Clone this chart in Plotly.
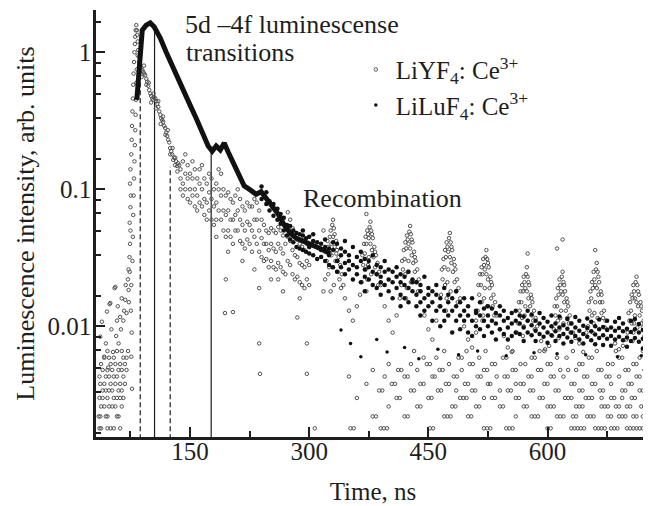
import plotly.graph_objects as go

FONT = "Liberation Serif"
INK = "#1e1e1e"

# ---------------- axes ----------------
x_range = [31.6, 729]
y_range_log = [-2.808, 0.309]
x_major = [150, 300, 450, 600]
x_minor = [75, 225, 375, 525, 675]
y_major = [0.01, 0.1, 1]
y_major_text = ["0.01", "0.1", "1"]
y_minor = [0.001667, 0.003333, 0.005, 0.006667, 0.008333,
           0.01667, 0.03333, 0.05, 0.06667, 0.08333,
           0.1667, 0.3333, 0.5, 0.6667, 0.8333, 1.667]

# ---------------- LiLuF4:Ce3+ (dense decay band, centre line) ----------------
lu_main_t = [83.0, 86.0, 89.8, 94.8, 99.9, 105.0, 112.5, 120.0, 127.5, 135.1, 142.6,
             150.2, 157.7, 165.3, 172.8, 177.9, 182.9, 188.0, 193.0, 198.0, 204.3, 210.6,
             218.1, 225.7, 233.2, 239.5, 245.8, 253.3, 260.9, 268.4, 276.0, 283.5, 292.3,
             301.1, 313.7, 326.3]
lu_main_i = [0.45, 0.88, 1.45, 1.58, 1.64, 1.53, 1.27, 1.00, 0.81, 0.65, 0.51,
             0.41, 0.33, 0.26, 0.207, 0.19, 0.207, 0.194, 0.218, 0.187, 0.156, 0.127,
             0.106, 0.099, 0.092, 0.096, 0.086, 0.074, 0.066, 0.055, 0.048, 0.044, 0.042,
             0.040, 0.037, 0.034]

# LiLuF4 scattered points (time ns -> intensities read at that time)
lu_cloud_near = {240: [0.105, 0.085], 246: [0.095, 0.078], 250: [0.082, 0.07], 255: [0.078, 0.064],
                 260: [0.072, 0.06], 264: [0.066, 0.056], 268: [0.062, 0.05], 272: [0.055, 0.046],
                 276: [0.054, 0.043], 280: [0.05, 0.041], 284: [0.048, 0.038], 288: [0.047, 0.037],
                 292: [0.046, 0.036, 0.05], 296: [0.044, 0.035], 300: [0.045, 0.034, 0.038],
                 305: [0.042, 0.033, 0.047], 310: [0.041, 0.031], 315: [0.04, 0.032, 0.036],
                 320: [0.038, 0.03, 0.043], 325: [0.037, 0.028, 0.033], 330: [0.036, 0.027, 0.041]}
lu_cloud_mid = {335: [0.04, 0.03, 0.025], 340: [0.037, 0.033, 0.027], 345: [0.035, 0.029, 0.024, 0.042],
                350: [0.033, 0.03, 0.026], 355: [0.038, 0.028, 0.022], 360: [0.032, 0.027, 0.024],
                365: [0.035, 0.03, 0.021], 370: [0.031, 0.026, 0.023, 0.018], 375: [0.03, 0.027, 0.022],
                380: [0.033, 0.025, 0.02], 385: [0.028, 0.024, 0.019], 390: [0.027, 0.023, 0.021, 0.017],
                395: [0.03, 0.025, 0.02], 400: [0.026, 0.022, 0.018], 405: [0.025, 0.021, 0.016],
                410: [0.027, 0.023, 0.019], 415: [0.024, 0.021, 0.017, 0.014], 420: [0.023, 0.02, 0.016],
                425: [0.025, 0.019, 0.015], 430: [0.022, 0.018, 0.021], 435: [0.021, 0.017, 0.014],
                440: [0.02, 0.018, 0.015, 0.012], 445: [0.023, 0.016, 0.013], 450: [0.019, 0.017, 0.014]}
lu_cloud_far = {455: [0.018, 0.015, 0.011], 460: [0.017, 0.013, 0.02], 465: [0.016, 0.014, 0.01],
                470: [0.019, 0.013, 0.011], 475: [0.015, 0.012, 0.017], 480: [0.016, 0.013, 0.009],
                485: [0.014, 0.011, 0.018], 490: [0.015, 0.012, 0.0095], 495: [0.013, 0.011, 0.016],
                500: [0.014, 0.012, 0.009], 505: [0.016, 0.011, 0.0085], 510: [0.013, 0.01, 0.0125],
                515: [0.012, 0.0095, 0.015], 520: [0.0135, 0.011, 0.0085], 525: [0.012, 0.01, 0.014],
                530: [0.011, 0.009, 0.0135], 535: [0.0125, 0.0105, 0.008], 540: [0.012, 0.0095, 0.014],
                545: [0.011, 0.0088, 0.013], 550: [0.0115, 0.0098, 0.008], 555: [0.0125, 0.0105, 0.0085],
                560: [0.011, 0.009, 0.013], 565: [0.0105, 0.0088, 0.012], 570: [0.0118, 0.0098, 0.0078],
                575: [0.011, 0.009, 0.013], 580: [0.0102, 0.0086, 0.0122], 585: [0.011, 0.0093, 0.0078],
                590: [0.0105, 0.0088, 0.0125], 595: [0.0098, 0.0084, 0.0115], 600: [0.0108, 0.009, 0.0076],
                605: [0.01, 0.0086, 0.012], 610: [0.0105, 0.0092, 0.0078], 615: [0.0098, 0.0085, 0.0118],
                620: [0.0102, 0.0088, 0.0075], 625: [0.0096, 0.0083, 0.0113], 630: [0.0105, 0.009, 0.0077],
                635: [0.0098, 0.0085, 0.0117], 640: [0.0093, 0.008, 0.011], 645: [0.0101, 0.0088, 0.0075],
                650: [0.0097, 0.0084, 0.0114], 655: [0.0092, 0.0079, 0.0108], 660: [0.01, 0.0087, 0.0074],
                665: [0.0095, 0.0082, 0.0112], 670: [0.0099, 0.0086, 0.0073], 675: [0.0094, 0.0081, 0.011],
                680: [0.0098, 0.0085, 0.0072], 685: [0.0093, 0.008, 0.0108], 690: [0.0097, 0.0084, 0.0115],
                695: [0.0092, 0.0079, 0.0105], 700: [0.0096, 0.0083, 0.0071], 705: [0.0091, 0.0078, 0.011],
                710: [0.0095, 0.0082, 0.0113], 715: [0.009, 0.0077, 0.0104], 720: [0.0094, 0.0081, 0.0069],
                725: [0.0089, 0.0076, 0.0107]}
lu_sparse = [(340, 0.0094), (352, 0.0075), (365, 0.006), (385, 0.008), (398, 0.0065), (420, 0.007),
             (438, 0.0058), (462, 0.0068), (488, 0.0062), (512, 0.0066), (548, 0.0061), (583, 0.0064),
             (612, 0.0063), (648, 0.0062), (688, 0.006), (718, 0.0061)]

# ---------------- LiYF4:Ce3+ ----------------
yf_pre = [(37, 0.0084), (39, 0.0108), (42, 0.006), (44, 0.0075), (45.4, 0.0128), (47, 0.005),
          (48.7, 0.0145), (49.6, 0.0148), (51, 0.0095), (53, 0.0065), (55, 0.019), (56, 0.0194),
          (57, 0.0085), (58, 0.011), (59, 0.014), (60, 0.0075), (62, 0.0117), (63, 0.0095),
          (64, 0.016), (66, 0.011), (67, 0.013), (68.4, 0.0156), (69, 0.02), (70, 0.0125),
          (71.8, 0.022), (72.6, 0.0184), (72.6, 0.026), (73, 0.015)]
yf_rise = [(73.8, 0.032), (74, 0.025), (74.5, 0.04), (75, 0.05), (74, 0.057), (75, 0.074),
           (75.5, 0.09), (74.5, 0.11), (75, 0.14), (76, 0.18), (76.5, 0.23), (77, 0.29),
           (77.5, 0.37), (78, 0.46), (78.5, 0.58), (79, 0.7), (79.5, 0.85), (80, 1.0),
           (80.5, 1.15), (81, 1.3), (81.5, 1.45), (77, 0.0035), (76, 0.006), (76.5, 0.009),
           (75.5, 0.013), (76, 0.02), (77.5, 0.03), (78, 0.045), (78.5, 0.065), (79, 0.09),
           (79.5, 0.12), (80, 0.16), (80.5, 0.21), (81, 0.27), (81.5, 0.35), (82, 0.45),
           (82.5, 0.6), (83, 0.75)]
yf_decay = [(82.3, 1.58), (83, 1.45), (83.5, 1.34), (84.2, 1.2), (84.8, 1.04), (85.5, 0.93),
            (86, 0.85), (87, 0.8), (88.6, 0.77), (90, 0.74), (91, 0.72), (92.3, 0.7), (93.6, 0.68),
            (95, 0.64), (96.1, 0.61), (97.4, 0.57), (98.6, 0.53), (100, 0.5), (101.1, 0.48),
            (102.4, 0.46), (103.6, 0.45), (105, 0.47), (106.2, 0.46), (107.5, 0.44), (108.7, 0.42),
            (110, 0.4), (111.2, 0.37), (112.5, 0.35), (113.7, 0.33), (115, 0.32), (116.2, 0.31),
            (117.5, 0.29), (118.7, 0.28), (120, 0.26), (121.3, 0.245), (122.5, 0.23), (123.8, 0.22),
            (125, 0.2), (126.3, 0.19), (127.5, 0.18), (128.8, 0.164), (130, 0.17), (131.3, 0.17),
            (132.5, 0.16), (133.8, 0.148), (135, 0.155), (136.4, 0.15),
            (84, 0.95), (86, 0.7), (89, 0.66), (92, 0.8), (95, 0.58), (98, 0.6), (101, 0.43),
            (104, 0.5), (107, 0.39), (110, 0.44), (113, 0.3), (116, 0.34), (119, 0.25),
            (122, 0.27), (125, 0.18), (128, 0.2), (131, 0.15), (134, 0.135)]
yf_ring = {138: [0.14, 0.12, 0.1], 141: [0.16, 0.11, 0.09], 144: [0.18, 0.13, 0.1],
           147: [0.15, 0.12, 0.085], 150: [0.13, 0.1, 0.08], 153: [0.16, 0.12, 0.09],
           156: [0.14, 0.1, 0.075], 159: [0.12, 0.09, 0.07], 162: [0.14, 0.11, 0.08],
           165: [0.15, 0.1, 0.075], 168: [0.12, 0.085, 0.065], 171: [0.11, 0.08, 0.06],
           174: [0.13, 0.095, 0.07], 177: [0.12, 0.085, 0.06], 180: [0.1, 0.075, 0.055],
           183: [0.11, 0.08, 0.06, 0.045], 186: [0.14, 0.1, 0.07], 189: [0.13, 0.09, 0.06],
           192: [0.1, 0.07, 0.05], 195: [0.09, 0.065, 0.045, 0.022], 198: [0.095, 0.07, 0.05, 0.035],
           201: [0.085, 0.06, 0.045], 204: [0.08, 0.06, 0.04, 0.0127], 207: [0.09, 0.065, 0.05],
           210: [0.1, 0.07, 0.05], 213: [0.085, 0.06, 0.042], 216: [0.075, 0.055, 0.04, 0.03],
           219: [0.07, 0.05, 0.037], 222: [0.08, 0.058, 0.043], 225: [0.075, 0.055, 0.04],
           228: [0.075, 0.05, 0.035], 231: [0.085, 0.06, 0.045, 0.026], 234: [0.08, 0.06, 0.04],
           237: [0.07, 0.05, 0.035, 0.019, 0.0075], 240: [0.06, 0.044, 0.032], 243: [0.055, 0.04, 0.03],
           246: [0.05, 0.04, 0.031], 249: [0.048, 0.036, 0.027], 252: [0.052, 0.04, 0.03, 0.022],
           255: [0.05, 0.037, 0.027], 258: [0.048, 0.035, 0.026], 261: [0.053, 0.04, 0.029, 0.022],
           264: [0.05, 0.037, 0.027], 267: [0.046, 0.034, 0.025, 0.018], 270: [0.055, 0.04, 0.024],
           273: [0.068, 0.045, 0.03], 276: [0.06, 0.042, 0.028], 279: [0.052, 0.036, 0.024],
           282: [0.048, 0.033, 0.022], 285: [0.043, 0.032, 0.023, 0.0116], 288: [0.04, 0.029, 0.021, 0.016],
           291: [0.038, 0.028, 0.02], 294: [0.036, 0.027, 0.019], 297: [0.04, 0.03, 0.022, 0.0075, 0.0045],
           300: [0.038, 0.028, 0.02], 194: [0.0125], 238: [0.0045], 307: [0.0018]}
yf_spikes = [
    [(322, 0.03), (324, 0.038), (326, 0.045), (327, 0.05), (329, 0.055), (330, 0.06), (331, 0.052),
     (332, 0.047), (334, 0.042), (335, 0.036), (337, 0.032), (339, 0.028), (325, 0.027), (328, 0.033),
     (333, 0.03), (336, 0.025), (320, 0.022), (341, 0.024), (318, 0.018), (343, 0.02),
     (321, 0.035), (323, 0.042), (326, 0.034), (328, 0.04), (330, 0.045), (332, 0.038), (334, 0.034),
     (336, 0.03), (338, 0.022), (340, 0.019), (324, 0.024), (329, 0.027), (331, 0.02), (327, 0.018)],
    [(368, 0.028), (370, 0.034), (372, 0.04), (374, 0.047), (376, 0.053), (377, 0.058), (378, 0.05),
     (380, 0.044), (382, 0.038), (384, 0.033), (386, 0.029), (388, 0.025), (371, 0.026), (375, 0.032),
     (379, 0.036), (383, 0.027), (366, 0.021), (390, 0.02), (364, 0.017), (373, 0.022),
     (367, 0.033), (369, 0.04), (371, 0.045), (373, 0.05), (375, 0.044), (377, 0.04), (379, 0.047),
     (381, 0.032), (383, 0.035), (385, 0.024), (387, 0.02), (374, 0.028), (378, 0.024), (372, 0.018)],
    [(418, 0.026), (420, 0.031), (422, 0.037), (424, 0.043), (426, 0.049), (427, 0.054), (428, 0.047),
     (430, 0.041), (432, 0.035), (434, 0.03), (436, 0.026), (438, 0.022), (421, 0.024), (425, 0.03),
     (429, 0.033), (433, 0.025), (416, 0.02), (440, 0.018), (414, 0.016), (423, 0.019),
     (417, 0.03), (419, 0.036), (421, 0.041), (423, 0.046), (425, 0.04), (427, 0.037), (429, 0.043),
     (431, 0.029), (433, 0.032), (435, 0.021), (437, 0.018), (424, 0.025), (428, 0.021), (422, 0.016)],
    [(468, 0.022), (470, 0.027), (472, 0.032), (474, 0.038), (476, 0.044), (477, 0.048), (478, 0.041),
     (480, 0.036), (482, 0.031), (484, 0.026), (486, 0.022), (488, 0.019), (471, 0.02), (475, 0.026),
     (479, 0.029), (483, 0.021), (466, 0.017), (490, 0.016), (464, 0.014), (473, 0.016),
     (467, 0.026), (469, 0.031), (471, 0.036), (473, 0.041), (475, 0.035), (477, 0.032), (479, 0.038),
     (481, 0.025), (483, 0.028), (485, 0.018), (487, 0.015), (474, 0.021), (478, 0.018), (472, 0.013)],
    [(514, 0.017), (516, 0.02), (518, 0.024), (520, 0.028), (522, 0.032), (523, 0.036), (524, 0.031),
     (526, 0.027), (528, 0.023), (530, 0.02), (532, 0.017), (534, 0.015), (517, 0.015), (521, 0.019),
     (525, 0.022), (529, 0.016), (512, 0.013), (536, 0.012), (510, 0.011), (519, 0.012),
     (513, 0.02), (515, 0.024), (517, 0.027), (519, 0.031), (521, 0.026), (523, 0.024), (525, 0.029),
     (527, 0.019), (529, 0.021), (531, 0.014), (533, 0.012), (520, 0.016), (524, 0.014), (518, 0.011)],
    [(565, 0.013), (567, 0.015), (569, 0.018), (571, 0.021), (573, 0.024), (574, 0.027), (575, 0.023),
     (577, 0.02), (579, 0.017), (581, 0.015), (583, 0.013), (585, 0.0115), (568, 0.0115), (572, 0.014),
     (576, 0.016), (580, 0.012), (563, 0.0105), (587, 0.01), (561, 0.009), (570, 0.01),
     (564, 0.015), (566, 0.018), (568, 0.02), (570, 0.023), (572, 0.019), (574, 0.018), (576, 0.021),
     (578, 0.014), (580, 0.016), (582, 0.011), (584, 0.0095), (571, 0.012), (575, 0.011), (569, 0.0085)],
    [(610, 0.012), (612, 0.014), (614, 0.017), (616, 0.02), (618, 0.023), (619, 0.025), (620, 0.021),
     (622, 0.018), (624, 0.016), (626, 0.014), (628, 0.012), (630, 0.0105), (613, 0.011), (617, 0.013),
     (621, 0.015), (625, 0.0115), (608, 0.0095), (632, 0.009), (606, 0.0085), (615, 0.0095),
     (609, 0.014), (611, 0.016), (613, 0.019), (615, 0.022), (617, 0.018), (619, 0.017), (621, 0.02),
     (623, 0.013), (625, 0.015), (627, 0.0105), (629, 0.009), (616, 0.0115), (620, 0.0105), (614, 0.0082)],
    [(653, 0.013), (655, 0.016), (657, 0.019), (659, 0.022), (661, 0.026), (662, 0.029), (663, 0.025),
     (665, 0.021), (667, 0.018), (669, 0.015), (671, 0.013), (673, 0.011), (656, 0.012), (660, 0.015),
     (664, 0.017), (668, 0.0125), (651, 0.01), (675, 0.0095), (649, 0.009), (658, 0.0105),
     (652, 0.015), (654, 0.018), (656, 0.021), (658, 0.025), (660, 0.02), (662, 0.019), (664, 0.023),
     (666, 0.015), (668, 0.017), (670, 0.0115), (672, 0.0098), (659, 0.0125), (663, 0.0115), (657, 0.009)],
    [(703, 0.011), (705, 0.013), (707, 0.016), (709, 0.018), (711, 0.021), (712, 0.023), (713, 0.02),
     (715, 0.017), (717, 0.015), (719, 0.013), (721, 0.011), (723, 0.0095), (706, 0.0105), (710, 0.012),
     (714, 0.014), (718, 0.0105), (701, 0.009), (725, 0.0085), (699, 0.008), (708, 0.009),
     (702, 0.0125), (704, 0.015), (706, 0.017), (708, 0.02), (710, 0.016), (712, 0.015), (714, 0.018),
     (716, 0.012), (718, 0.014), (720, 0.0098), (722, 0.0085), (709, 0.0105), (713, 0.0098), (707, 0.0078)],
]
yf_valleys = [(345, 0.016), (350, 0.013), (355, 0.011), (360, 0.014), (395, 0.014), (400, 0.011),
              (405, 0.009), (410, 0.012), (445, 0.012), (450, 0.0095), (455, 0.008), (460, 0.011),
              (495, 0.01), (500, 0.008), (505, 0.007), (510, 0.009), (545, 0.0085), (550, 0.007),
              (555, 0.0065), (540, 0.0095), (592, 0.0078), (597, 0.0068), (602, 0.0072), (640, 0.0075),
              (645, 0.0065), (635, 0.0082), (685, 0.0075), (690, 0.0068), (695, 0.0072), (727, 0.0078),
              (619, 0.043), (612, 0.037), (660, 0.036), (575, 0.034), (318, 0.05), (372, 0.066)]

# quantised low-count rows: level -> times where a dot is seen
row_levels = [0.0018, 0.0022, 0.0026, 0.003, 0.0034, 0.0038, 0.0043, 0.0048, 0.0053, 0.0059, 0.0066]
row_times_left = [
    [36, 38, 46, 50, 54, 62],
    [35, 37, 44, 46, 58, 60],
    [38, 42, 48, 52, 56, 64],
    [36, 40, 46, 54, 58, 62, 66],
    [40, 44, 48, 52, 60, 64],
    [37, 42, 50, 56, 62, 68],
    [36, 44, 48, 54, 58, 66],
    [40, 46, 52, 60, 64, 70],
    [38, 50, 56, 62, 68],
    [42, 48, 54, 66, 70],
    [46, 58, 64, 72],
]
row_times_right = [
    [352, 356, 390, 394, 398, 452, 456, 520, 524, 528, 548, 552, 556, 600, 604, 630, 634, 638, 642,
     646, 660, 664, 668, 672, 680, 684, 688, 700, 704, 708, 712, 716, 720, 724, 728],
    [380, 384, 420, 424, 470, 474, 478, 500, 504, 560, 580, 584, 588, 612, 616, 620, 632, 636, 650,
     654, 658, 676, 680, 690, 694, 698, 708, 712, 720, 726],
    [400, 436, 440, 480, 484, 510, 514, 540, 544, 570, 574, 600, 604, 608, 636, 640, 644, 668, 672,
     676, 686, 690, 700, 704, 718, 722, 726],
    [360, 410, 414, 450, 454, 490, 494, 498, 520, 530, 534, 560, 564, 590, 594, 622, 626, 630, 648,
     652, 656, 668, 680, 684, 694, 706, 710, 724, 728],
    [388, 392, 428, 432, 462, 466, 485, 505, 509, 540, 550, 554, 578, 582, 610, 614, 640, 644, 666,
     670, 694, 698, 716, 720],
    [372, 404, 408, 440, 444, 472, 476, 496, 500, 525, 528, 560, 566, 570, 596, 600, 630, 634, 656,
     660, 680, 702, 706, 726],
    [350, 395, 420, 424, 455, 458, 482, 486, 512, 516, 536, 546, 550, 576, 580, 604, 608, 620, 646,
     650, 674, 678, 690, 712, 716],
    [380, 412, 416, 436, 464, 468, 492, 520, 524, 556, 560, 588, 592, 616, 626, 636, 664, 668, 698,
     702, 722],
    [400, 428, 448, 452, 476, 502, 506, 530, 534, 566, 572, 600, 604, 640, 644, 676, 682, 708, 712, 726],
    [444, 460, 488, 492, 514, 544, 548, 580, 584, 612, 624, 652, 656, 690, 694, 716],
    [432, 470, 498, 522, 556, 590, 596, 632, 662, 686, 720],
]

# time markers (ns) drawn from the axis floor up to the curve
mark_t = [87.3, 105.3, 125.0, 176.6]
mark_top = [0.74, 1.53, 0.146, 0.194]
mark_dash = ["5px,3px", "solid", "5px,3px", "solid"]
floor_i = 0.0015


def pairs_to_xy(pairs):
    return [p[0] for p in pairs], [p[1] for p in pairs]


def dict_to_xy(d):
    xs, ys = [], []
    for t, vals in d.items():
        for v in vals:
            xs.append(t)
            ys.append(v)
    return xs, ys


# assemble LiYF4
yf_x, yf_y = [], []
for block in [yf_pre, yf_rise, yf_decay, yf_valleys] + yf_spikes:
    a, b = pairs_to_xy(block)
    yf_x += a
    yf_y += b
a, b = dict_to_xy(yf_ring)
yf_x += a
yf_y += b
for lvl, tl, tr in zip(row_levels, row_times_left, row_times_right):
    for t in tl + tr:
        yf_x.append(t)
        yf_y.append(lvl)

# assemble LiLuF4 dense cloud
lu_x, lu_y = [], []
for d in [lu_cloud_near, lu_cloud_mid, lu_cloud_far]:
    a, b = dict_to_xy(d)
    lu_x += a
    lu_y += b
lu_sx, lu_sy = pairs_to_xy(lu_sparse)

fig = go.Figure()

for t, top, dash in zip(mark_t, mark_top, mark_dash):
    fig.add_trace(go.Scatter(x=[t, t], y=[floor_i, top], mode="lines",
                             line=dict(color=INK, width=1.2, dash=dash),
                             showlegend=False, hoverinfo="skip"))

fig.add_trace(go.Scatter(
    x=yf_x, y=yf_y, mode="markers", name="LiYF<sub>4</sub>: Ce<sup>3+</sup>",
    legendgroup="a",
    marker=dict(symbol="circle-open", size=3.5, color="#505050", line=dict(width=1, color="#505050"))))

fig.add_trace(go.Scatter(
    x=lu_main_t, y=lu_main_i, mode="lines", line=dict(color="#111", width=5),
    showlegend=False, legendgroup="b", hoverinfo="skip"))

fig.add_trace(go.Scatter(
    x=lu_x, y=lu_y, mode="markers", showlegend=False, legendgroup="b", hoverinfo="skip",
    marker=dict(symbol="circle", size=4.5, color="#111")))

fig.add_trace(go.Scatter(
    x=lu_sx, y=lu_sy, mode="markers", name="LiLuF<sub>4</sub>: Ce<sup>3+</sup>",
    legendgroup="b",
    marker=dict(symbol="circle", size=3.5, color="#111")))

axis_common = dict(showline=True, linecolor=INK, linewidth=2.5, ticks="inside",
                   tickcolor=INK, tickwidth=2, showgrid=False, zeroline=False,
                   tickfont=dict(family=FONT, size=25, color=INK), mirror=False)

fig.update_xaxes(range=x_range, tickmode="array", tickvals=x_major,
                 ticktext=[str(v) for v in x_major], ticklen=10, ticklabelstandoff=-10,
                 minor=dict(tickmode="array", tickvals=x_minor, ticks="inside",
                            ticklen=6, tickwidth=2, tickcolor=INK),
                 title=dict(text="Time, ns", font=dict(family=FONT, size=25, color=INK), standoff=19),
                 **axis_common)
fig.update_yaxes(type="log", range=y_range_log, tickmode="array", tickvals=y_major,
                 ticktext=y_major_text, ticklen=9, ticklabelstandoff=-3,
                 minor=dict(tickmode="array", tickvals=y_minor, ticks="inside",
                            ticklen=5, tickwidth=2, tickcolor=INK),
                 title=dict(text="Luminescence intensity, arb. units",
                            font=dict(family=FONT, size=26, color=INK), standoff=6),
                 **axis_common)

ann_font = dict(family=FONT, size=26, color=INK)
fig.add_annotation(xref="paper", yref="paper", x=0.1576, y=0.967, xanchor="left", yanchor="middle",
                   align="left", text="5d –4f luminescense", showarrow=False, font=ann_font)
fig.add_annotation(xref="paper", yref="paper", x=0.1594, y=0.9016, xanchor="left", yanchor="middle",
                   align="left", text="transitions", showarrow=False, font=ann_font)
fig.add_annotation(xref="paper", yref="paper", x=0.3696, y=0.5597, xanchor="left", yanchor="middle",
                   align="left", text="Recombination", showarrow=False, font=ann_font)

# the page body has an 8px margin, so the figure is 8px smaller and margins shifted accordingly
fig.update_layout(
    width=643, height=498,
    margin=dict(l=88, r=1, t=2, b=69),
    paper_bgcolor="white", plot_bgcolor="white",
    font=dict(family=FONT, color=INK),
    showlegend=True,
    legend=dict(x=0.469, y=0.914, xanchor="left", yanchor="top",
                font=dict(family=FONT, size=25, color=INK),
                bgcolor="rgba(0,0,0,0)", tracegroupgap=0, itemsizing="trace"),
)

fig.write_html("out.html")
